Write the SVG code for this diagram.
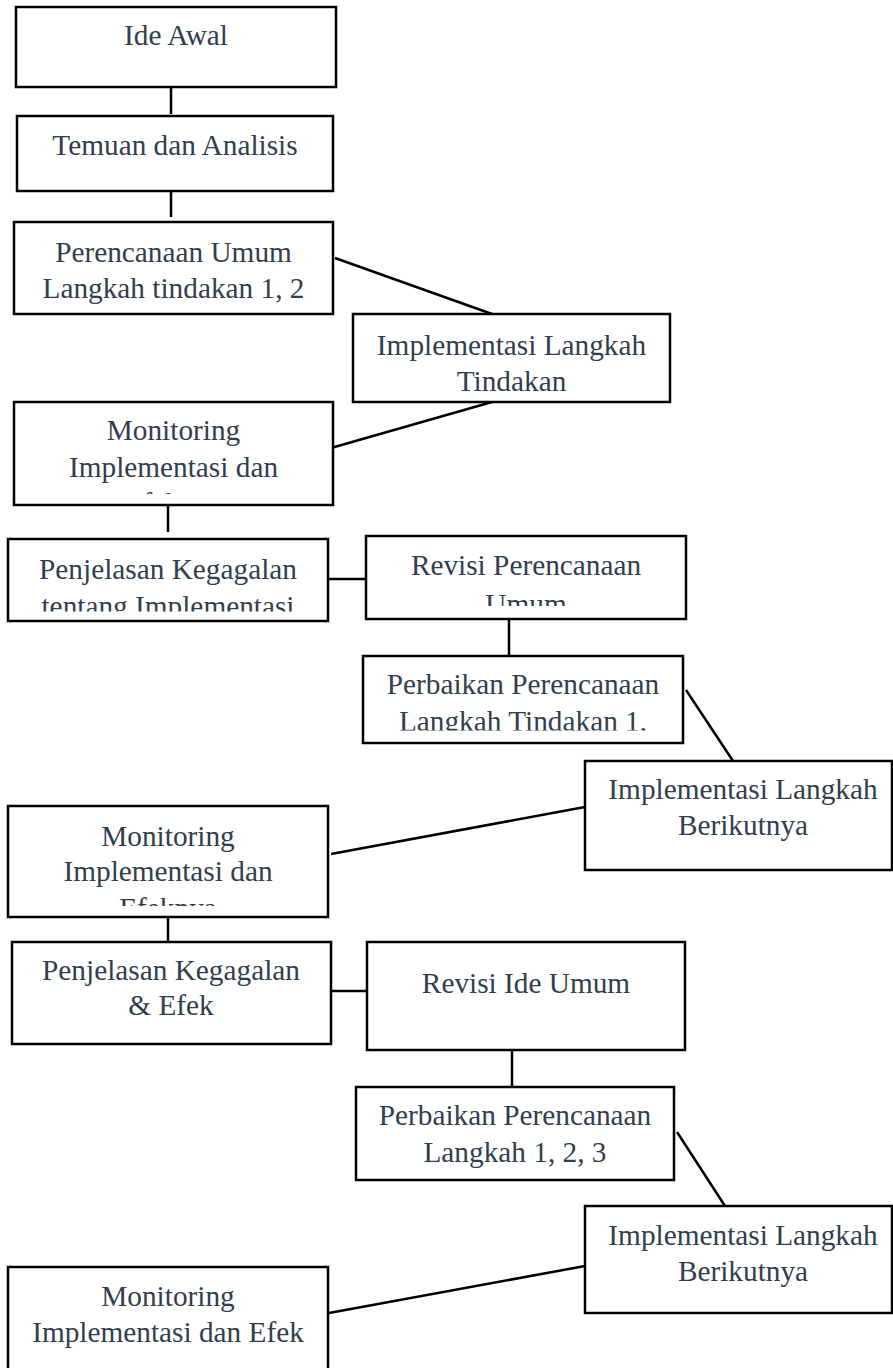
<svg xmlns="http://www.w3.org/2000/svg" width="893" height="1368" viewBox="0 0 893 1368">
<style>
.box{fill:#fff;stroke:#000;stroke-width:2.5}
.t{font-family:"Liberation Serif","Times New Roman",serif;font-size:29.3px;fill:#323E4F;text-anchor:middle}
.c{stroke:#000;stroke-width:2.5;fill:none}
</style>
<defs>
<clipPath id="clip5"><rect x="14" y="402" width="319" height="92"/></clipPath>
<clipPath id="clip6"><rect x="8" y="539" width="320" height="72.5"/></clipPath>
<clipPath id="clip7"><rect x="366" y="536" width="320" height="70"/></clipPath>
<clipPath id="clip8"><rect x="363" y="656" width="320" height="74.5"/></clipPath>
<clipPath id="clip10"><rect x="8" y="806" width="320" height="100"/></clipPath>
</defs>
<rect width="893" height="1368" fill="#fff"/>
<g id="connectors">
<line class="c" x1="171" y1="87" x2="171" y2="114"/>
<line class="c" x1="171" y1="191" x2="171" y2="217"/>
<line class="c" x1="335" y1="258" x2="492" y2="314"/>
<line class="c" x1="492" y1="402" x2="331" y2="448"/>
<line class="c" x1="168" y1="505" x2="168" y2="532"/>
<line class="c" x1="328" y1="579" x2="366" y2="579"/>
<line class="c" x1="509" y1="619" x2="509" y2="656"/>
<line class="c" x1="686" y1="690" x2="733" y2="761"/>
<line class="c" x1="585" y1="807" x2="331" y2="854"/>
<line class="c" x1="168" y1="915" x2="168" y2="942"/>
<line class="c" x1="331" y1="991" x2="367" y2="991"/>
<line class="c" x1="512" y1="1050" x2="512" y2="1087"/>
<line class="c" x1="677" y1="1132" x2="725" y2="1206"/>
<line class="c" x1="585" y1="1266" x2="329" y2="1313"/>
</g>
<g id="n1"><rect class="box" x="16" y="7" width="320" height="80"/><text class="t" x="176" y="45">Ide Awal</text></g>
<g id="n2"><rect class="box" x="17" y="116" width="316" height="75"/><text class="t" x="175" y="155">Temuan dan Analisis</text></g>
<g id="n3"><rect class="box" x="14" y="222" width="319" height="92"/><text class="t" x="173.5" y="262">Perencanaan Umum</text><text class="t" x="173.5" y="297.5">Langkah tindakan 1, 2</text></g>
<g id="n4"><rect class="box" x="353" y="314" width="317" height="88"/><text class="t" x="511.5" y="355">Implementasi Langkah</text><text class="t" x="511.5" y="391">Tindakan</text></g>
<g id="n5"><rect class="box" x="14" y="402" width="319" height="103"/><g clip-path="url(#clip5)"><text class="t" x="173.5" y="440">Monitoring</text><text class="t" x="173.5" y="476.5">Implementasi dan</text><text class="t" x="173.5" y="512.5">Efeknya</text></g></g>
<g id="n6"><rect class="box" x="8" y="539" width="320" height="82"/><g clip-path="url(#clip6)"><text class="t" x="168" y="578.5">Penjelasan Kegagalan</text><text class="t" x="168" y="615.5">tentang Implementasi</text></g></g>
<g id="n7"><rect class="box" x="366" y="536" width="320" height="83"/><g clip-path="url(#clip7)"><text class="t" x="526" y="575">Revisi Perencanaan</text><text class="t" x="526" y="614">Umum</text></g></g>
<g id="n8"><rect class="box" x="363" y="656" width="320" height="87"/><g clip-path="url(#clip8)"><text class="t" x="523" y="694">Perbaikan Perencanaan</text><text class="t" x="523" y="731">Langkah Tindakan 1,</text></g></g>
<g id="n9"><rect class="box" x="585" y="761" width="307" height="109"/><text class="t" x="743" y="799">Implementasi Langkah</text><text class="t" x="743" y="835">Berikutnya</text></g>
<g id="n10"><rect class="box" x="8" y="806" width="320" height="111"/><g clip-path="url(#clip10)"><text class="t" x="168" y="846">Monitoring</text><text class="t" x="168" y="881">Implementasi dan</text><text class="t" x="168" y="917.5">Efeknya</text></g></g>
<g id="n11"><rect class="box" x="12" y="942" width="319" height="102"/><text class="t" x="171" y="979.5">Penjelasan Kegagalan</text><text class="t" x="171" y="1015">&amp; Efek</text></g>
<g id="n12"><rect class="box" x="367" y="942" width="318" height="108"/><text class="t" x="526" y="993">Revisi Ide Umum</text></g>
<g id="n13"><rect class="box" x="356" y="1087" width="318" height="93"/><text class="t" x="515" y="1125">Perbaikan Perencanaan</text><text class="t" x="515" y="1162">Langkah 1, 2, 3</text></g>
<g id="n14"><rect class="box" x="585" y="1206" width="307" height="107"/><text class="t" x="743" y="1245">Implementasi Langkah</text><text class="t" x="743" y="1281">Berikutnya</text></g>
<g id="n15"><rect class="box" x="8" y="1267" width="320" height="140"/><text class="t" x="168" y="1306">Monitoring</text><text class="t" x="168" y="1342">Implementasi dan Efek</text></g>
</svg>
